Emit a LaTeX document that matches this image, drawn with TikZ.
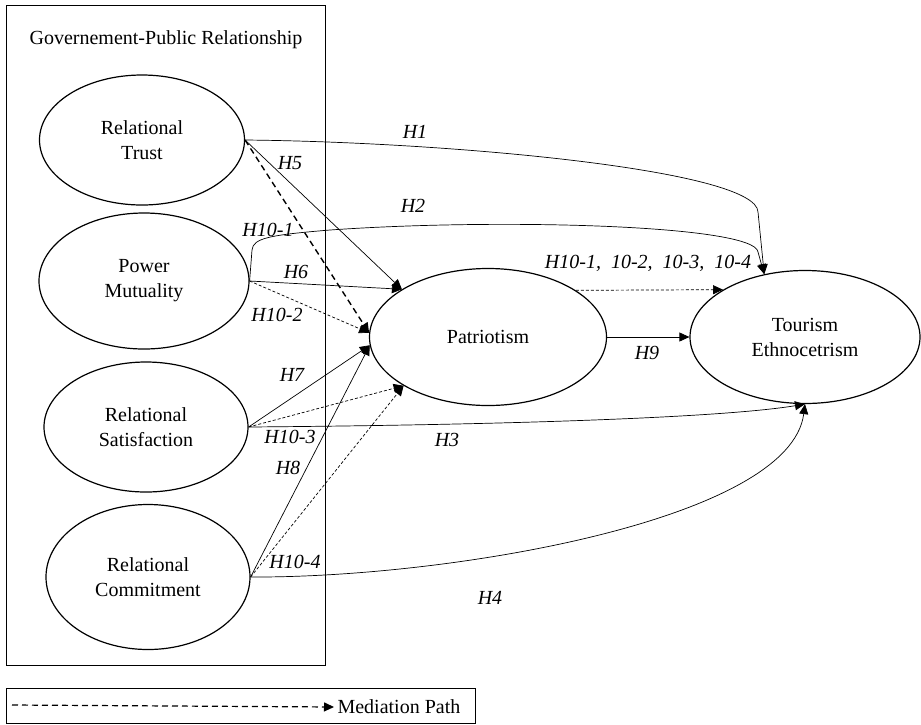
\documentclass[tikz,border=0pt]{standalone}
\usepackage{fontspec}
\setmainfont{Liberation Serif}
\usetikzlibrary{shapes.geometric,arrows.meta}

\begin{document}
\begin{tikzpicture}[x=1pt,y=-1pt,
    every node/.style = {font=\fontsize{20}{25}\selectfont},
    main/.style = {draw, ellipse, line width=1.2pt, align=center, inner sep=0pt},
    hyp/.style = {font=\fontsize{20}{25}\selectfont\itshape, inner sep=1pt},
    link/.style = {-{Triangle[length=10pt,width=9pt]}, line width=0.7pt},
    med/.style = {link, line width=1.4pt, dash pattern=on 6pt off 4pt},
    ind/.style = {link, dash pattern=on 3pt off 2pt}]
                \useasboundingbox (0,0) rectangle (921,724);
                % group box
                \draw[line width=1pt] (6,5) rectangle (325,665);
                \node (gpr) at (166,40) {Governement-Public Relationship};
                \node[main, minimum width=205pt, minimum height=130pt] (trust) at (142,140) {Relational\\Trust};
                \node[main, minimum width=210pt, minimum height=136pt] (power) at (144,281) {Power\\Mutuality};
                \node[main, minimum width=204pt, minimum height=130pt] (sat) at (146,427) {Relational\\Satisfaction};
                \node[main, minimum width=204pt, minimum height=145pt] (comm) at (148,577) {Relational\\Commitment};
                \node[main, minimum width=237pt, minimum height=137pt] (pat) at (488,337) {Patriotism};
                \node[main, minimum width=230pt, minimum height=133pt] (tour) at (805,337) {Tourism\\Ethnocetrism};
                % direct paths
                \draw[link] (trust.east) .. controls (450,142) and (757,170) .. (758,212) -- (tour.123);
                \draw[link] (power.east) -- (252,250) .. controls (253,238) and (270,235) .. (330,230)
                    .. controls (500,218) and (755,225) .. (758,252) -- (tour.123);
                \draw[link] (sat.east) .. controls (500,425) and (720,418) .. (tour.south);
                \draw[link] (comm.east) .. controls (450,578) and (790,520) .. (tour.south);
                \draw[link] (trust.east) -- (pat.151);
                \draw[link] (power.east) -- (pat.151);
                \draw[link] (sat.east) -- (pat.184);
                \draw[link] (comm.east) -- (pat.184);
                \draw[link] (pat.east) -- (tour.west);
                % mediation
                \draw[med] (trust.east) -- (pat.178);
                \draw[ind] (power.east) -- (pat.178);
                \draw[ind] (sat.east) -- (pat.210);
                \draw[ind] (comm.east) -- (pat.210);
                \draw[ind] (pat.28) -- (tour.150);
                % labels
                \node[hyp] (h1) at (415,132) {H1};
                \node[hyp] (h2) at (413,206) {H2};
                \node[hyp] (h5) at (290,163) {H5};
                \node[hyp] (h101) at (268,230) {H10-1};
                \node[hyp] (h6) at (296,272) {H6};
                \node[hyp] (h102) at (277,315) {H10-2};
                \node[hyp] (h7) at (292,375) {H7};
                \node[hyp] (h103) at (290,437) {H10-3};
                \node[hyp] (h8) at (288,468) {H8};
                \node[hyp] (h104) at (295,562) {H10-4};
                \node[hyp] (h3) at (447,440) {H3};
                \node[hyp] (h4) at (490,598) {H4};
                \node[hyp] (h9) at (647,353) {H9};
                \node[hyp] (h10) at (648,263) {H10-1,\ \ 10-2,\ \ 10-3,\ \ 10-4};
                % legend
                \draw[line width=1pt] (6,688) rectangle (475,723);
                \coordinate (lgs) at (12,705);
                \node[anchor=west] (lgtext) at (334,707) {Mediation Path};
                \draw[med, line width=1.2pt] (lgs) -- (lgtext.west);
            \end{tikzpicture}
\end{document}
